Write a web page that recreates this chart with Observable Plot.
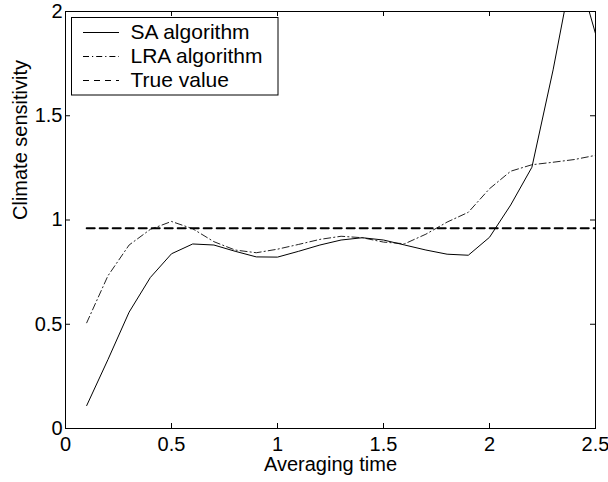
<!DOCTYPE html>
<html><head><meta charset="utf-8">
<script src="https://cdn.jsdelivr.net/npm/d3@7"></script>
<script src="https://cdn.jsdelivr.net/npm/@observablehq/plot@0.6"></script>
<style>
body{margin:0;background:#fff;}
#chart{position:relative;width:608px;height:482px;font-family:"Liberation Sans",Arial,Helvetica,sans-serif;}
#chart svg{position:absolute;left:0;top:0;}
</style>
</head><body><div id="chart"></div>
<script>
// ---- data ----
const averagingTime = [0.1,0.2,0.3,0.4,0.5,0.6,0.7,0.8,0.9,1.0,1.1,1.2,1.3,1.4,1.5,1.6,1.7,1.8,1.9,2.0,2.1,2.2,2.3,2.4,2.5];
const saValues  = [0.11,0.33,0.558,0.724,0.838,0.885,0.88,0.85,0.823,0.822,0.85,0.88,0.904,0.915,0.904,0.88,0.856,0.836,0.831,0.917,1.072,1.253,1.72,2.25,1.894];
const lraValues = [0.507,0.732,0.88,0.955,0.993,0.958,0.896,0.856,0.843,0.86,0.883,0.907,0.922,0.915,0.894,0.886,0.932,0.99,1.037,1.15,1.234,1.265,1.277,1.29,1.31];
const trueTime  = [0.1, 2.5];
const trueValues = [0.961, 0.961];
const xTicks = [0,0.5,1,1.5,2,2.5];
const xTickLabels = ["0","0.5","1","1.5","2","2.5"];
const yTicks = [0,0.5,1,1.5,2];
const yTickLabels = ["0","0.5","1","1.5","2"];
const seriesNames = ["SA algorithm","LRA algorithm","True value"];
const xLabel = "Averaging time";
const yLabel = "Climate sensitivity";

// ---- tables ----
const sa  = averagingTime.map((t,i)=>({t, v: saValues[i]}));
const lra = averagingTime.map((t,i)=>({t, v: lraValues[i]}));
const tru = trueTime.map((t,i)=>({t, v: trueValues[i]}));

const W=608, H=482, mL=65, mR=13, mT=11, mB=54;
const innerW = W-mL-mR, innerH = H-mT-mB, tk = 5;
const font = '"Liberation Sans", Arial, Helvetica, sans-serif';

const chart = Plot.plot({
  width: W, height: H,
  marginLeft: mL, marginRight: mR, marginTop: mT, marginBottom: mB,
  style: {fontFamily: font, fontSize: "20px", color: "#000", background: "transparent", overflow: "visible"},
  x: {domain: [0, 2.5]},
  y: {domain: [0, 2]},
  marks: [
    Plot.line(lra, {x: "t", y: "v", stroke: "#222", strokeWidth: 1, strokeDasharray: "7,3,1.2,3", clip: true}),
    Plot.line(sa,  {x: "t", y: "v", stroke: "#000", strokeWidth: 1, clip: true}),
    Plot.line(tru, {x: "t", y: "v", stroke: "#000", strokeWidth: 2, strokeDasharray: "8,5", clip: true}),
    Plot.frame({stroke: "#000", strokeWidth: 1}),
    Plot.tickX(xTicks, {x: d => d, insetTop: innerH - tk, stroke: "#000"}),
    Plot.tickX(xTicks, {x: d => d, insetBottom: innerH - tk, stroke: "#000"}),
    Plot.tickY(yTicks, {y: d => d, insetLeft: innerW - tk, stroke: "#000"}),
    Plot.tickY(yTicks, {y: d => d, insetRight: innerW - tk, stroke: "#000"}),
    Plot.axisX({ticks: xTicks, tickSize: 0, tickPadding: 8, tickFormat: d => xTickLabels[xTicks.indexOf(d)], label: null}),
    Plot.axisY({ticks: yTicks, tickSize: 0, tickPadding: 3, tickFormat: d => yTickLabels[yTicks.indexOf(d)], label: null}),
    Plot.text([xLabel], {frameAnchor: "bottom", dy: 42, text: d => d, fontSize: 20, fill: "#000"}),
    Plot.text([yLabel], {frameAnchor: "left", dx: -45, rotate: -90, text: d => d, fontSize: 20, fill: "#000"})
  ]
});

const root = document.getElementById("chart");
root.style.background = "#fff";
root.appendChild(chart);

// ---- legend overlay ----
const styles = [
  {dash: null, width: 1},
  {dash: "6,3,1.2,3", width: 1},
  {dash: "6,5", width: 1}
];
const leg = d3.create("svg").attr("width", W).attr("height", H)
  .style("position","absolute").style("left","0").style("top","0").style("pointer-events","none");
leg.append("rect").attr("x", 71.5).attr("y", 17.5).attr("width", 206.5).attr("height", 77.5)
  .attr("fill", "#fff").attr("stroke", "#000").attr("stroke-width", 1);
const rows = leg.selectAll("g").data(seriesNames).join("g")
  .attr("transform", (d,i) => `translate(0,${i*24})`);
rows.append("line").attr("x1", 83).attr("x2", 119).attr("y1", 32.5).attr("y2", 32.5)
  .attr("stroke", "#000").attr("stroke-width", (d,i)=>styles[i].width)
  .attr("stroke-dasharray", (d,i)=>styles[i].dash);
rows.append("text").attr("x", 130.5).attr("y", 38.8).text(d => d)
  .attr("font-family", font).attr("font-size", 21).attr("fill", "#000");
root.appendChild(leg.node());
</script>
</body></html>
